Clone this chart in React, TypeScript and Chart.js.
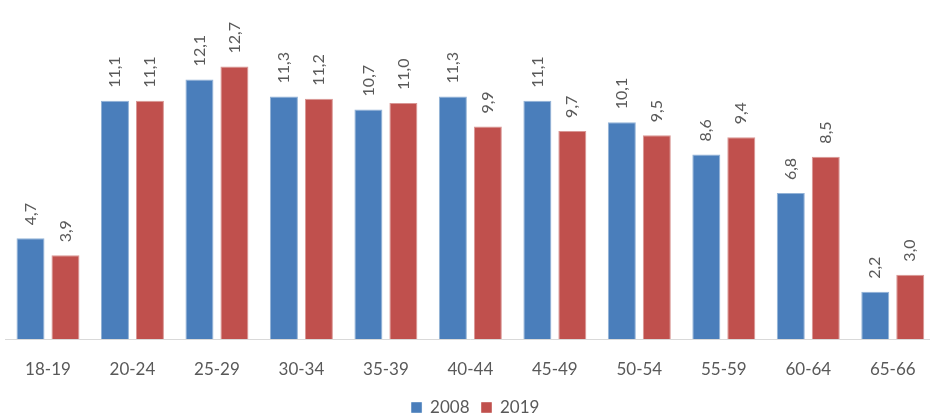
import { useEffect, useRef } from "react";
import { Chart, registerables } from "chart.js";

Chart.register(...registerables);

// Age groups along the x axis
const ageGroups = ["18-19", "20-24", "25-29", "30-34", "35-39", "40-44", "45-49", "50-54", "55-59", "60-64", "65-66"];

// Share per age group, %
const share2008 = [4.7, 11.1, 12.1, 11.3, 10.7, 11.3, 11.1, 10.1, 8.6, 6.8, 2.2];
const share2019 = [3.9, 11.1, 12.7, 11.2, 11.0, 9.9, 9.7, 9.5, 9.4, 8.5, 3.0];

const seriesNames = ["2008", "2019"];

const TEXT_GRAY = "#595959";
const FONT = "Lato, 'Open Sans', sans-serif";

// Vertical value labels above each bar, decimal comma
const valueLabels = {
  id: "valueLabels",
  afterDatasetsDraw(chart: any) {
    const { ctx } = chart;
    ctx.save();
    ctx.font = `16px ${FONT}`;
    ctx.fillStyle = TEXT_GRAY;
    ctx.textAlign = "left";
    ctx.textBaseline = "middle";
    chart.data.datasets.forEach((ds: any, i: number) => {
      const meta = chart.getDatasetMeta(i);
      meta.data.forEach((bar: any, j: number) => {
        const v = ds.data[j] as number;
        ctx.save();
        ctx.translate(bar.x, bar.y - 13);
        ctx.rotate(-Math.PI / 2);
        ctx.fillText(v.toFixed(1).replace(".", ","), 0, 0);
        ctx.restore();
      });
    });
    ctx.restore();
  },
};

export default function App() {
  const canvasRef = useRef<HTMLCanvasElement>(null);

  useEffect(() => {
    const chart = new Chart(canvasRef.current!, {
      type: "bar",
      data: {
        labels: ageGroups,
        datasets: [
          {
            label: seriesNames[0],
            data: share2008,
            backgroundColor: "#4a7ebb",
            borderColor: "rgba(74,126,187,0.6)",
            borderWidth: 1,
            barPercentage: 0.8,
            categoryPercentage: 0.828,
          },
          {
            label: seriesNames[1],
            data: share2019,
            backgroundColor: "#c0504d",
            borderColor: "rgba(192,80,77,0.6)",
            borderWidth: 1,
            barPercentage: 0.8,
            categoryPercentage: 0.828,
          },
        ],
      },
      options: {
        responsive: false,
        animation: false,
        devicePixelRatio: 1,
        layout: { padding: 0 },
        plugins: {
          tooltip: { enabled: false },
          legend: {
            position: "bottom",
            labels: {
              boxWidth: 10,
              boxHeight: 10,
              padding: 12,
              color: TEXT_GRAY,
              font: { family: FONT, size: 17 },
            },
          },
        },
        scales: {
          x: {
            grid: { display: false, drawTicks: false },
            border: { color: "#d9d9d9", width: 1 },
            ticks: {
              color: TEXT_GRAY,
              font: { family: FONT, size: 17 },
              padding: 20,
              maxRotation: 0,
              autoSkip: false,
            },
            afterFit(scale: any) {
              scale.height = 48;
            },
          },
          y: {
            min: 0,
            max: 15.8,
            grid: { display: false, drawTicks: false },
            border: { display: false },
            ticks: { display: false },
            afterFit(scale: any) {
              scale.width = 5.75;
            },
          },
          yRight: {
            position: "right",
            min: 0,
            max: 1,
            grid: { display: false, drawTicks: false },
            border: { display: false },
            ticks: { display: false },
            afterFit(scale: any) {
              scale.width = 16;
            },
          },
        },
      },
      plugins: [valueLabels],
    });
    return () => chart.destroy();
  }, []);

  return (
    <div
      style={{
        position: "fixed",
        left: 0,
        top: 0,
        width: 930,
        height: 418,
        overflow: "hidden",
        background: "#ffffff",
      }}
    >
      <canvas ref={canvasRef} width={951} height={426} style={{ display: "block", width: 951, height: 426 }} />
    </div>
  );
}
